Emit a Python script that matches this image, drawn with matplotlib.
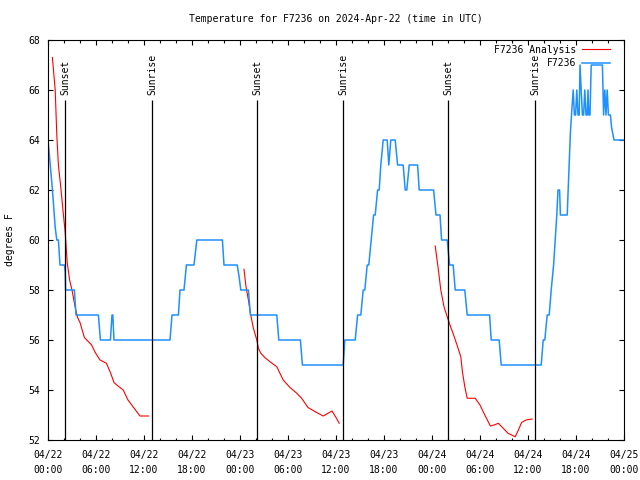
import matplotlib
matplotlib.use("Agg")
import matplotlib.pyplot as plt
from datetime import datetime, timedelta

plt.rcParams['font.family'] = ['DejaVu Sans Mono']
plt.rcParams['font.size'] = 7

start = datetime(2024, 4, 22, 0, 0)

# F7236 observations: hours since 04/22 00:00 UTC, degrees F
obs_hours = [0.0, 0.45, 0.65, 0.9, 1.1, 1.3, 1.5, 2.05, 2.15, 2.2, 3.3, 3.5, 6.3, 6.55,
             7.8, 8.0, 8.1, 8.25, 15.25, 15.5, 16.3, 16.5, 17.0, 17.3, 18.25, 18.6,
             21.8, 22.0, 23.65, 23.9, 24.1, 25.05, 25.3, 28.6, 28.85, 31.55, 31.8,
             36.9, 37.0, 37.1, 38.4, 38.7, 39.1, 39.4, 39.6, 39.9, 40.1, 40.4, 40.7,
             40.9, 41.2, 41.4, 41.6, 41.9, 42.4, 42.6, 42.85, 43.4, 43.7, 44.4, 44.65,
             44.85, 45.15, 46.2, 46.4, 48.2, 48.5, 49.0, 49.2, 49.9, 50.2, 50.65,
             50.9, 52.1, 52.4, 55.2, 55.4, 56.4, 56.65, 61.65, 61.9, 62.1, 62.4,
             62.65, 62.9, 63.2, 63.4, 63.6, 63.75, 63.95, 64.05, 64.9, 65.3, 65.5,
             65.65, 65.8, 65.95, 66.1, 66.25, 66.4, 66.5, 66.65, 66.8, 66.95, 67.1,
             67.25, 67.4, 67.5, 67.6, 67.75, 67.9, 69.3, 69.45, 69.6, 69.75, 69.9,
             70.05, 70.3, 70.45, 70.75, 72.0]
obs_temps = [64.0, 62.4, 61.6, 60.5, 60, 60, 59, 59, 58.7, 58, 58, 57, 57, 56,
             56, 57, 57, 56, 56, 57, 57, 58, 58, 59, 59, 60,
             60, 59, 59, 58.5, 58, 58, 57, 57, 56, 56, 55,
             55, 55.5, 56, 56, 57, 57, 58, 58, 59, 59, 60, 61,
             61, 62, 62, 63, 64, 64, 63, 64, 64, 63, 63, 62,
             62, 63, 63, 62, 62, 61, 61, 60, 60, 59, 59,
             58, 58, 57, 57, 56, 56, 55, 55, 56, 56, 57,
             57, 58, 59, 60, 61, 62, 62, 61, 61, 64.3, 65.3,
             66, 65, 65, 66, 65, 65, 67, 66, 65, 65, 66,
             65, 65, 66, 65, 65, 67, 67, 65, 66, 65, 66,
             65, 65, 64.5, 64, 64]

# F7236 Analysis, three separate runs
ana1_hours = [0.55, 0.9, 1.1, 1.3, 1.6, 1.9, 2.15, 2.4, 2.7, 3.0, 3.4, 3.7, 4.0,
              4.55, 5.45, 5.9, 6.5, 7.3, 7.8, 8.25, 8.6, 9.4, 10.0, 10.7, 11.5, 12.55]
ana1_temps = [67.3, 66.0, 64.2, 63.0, 62.1, 61.1, 60.3, 59.1, 58.4, 58.0, 57.3, 56.9, 56.7,
              56.1, 55.8, 55.5, 55.2, 55.07, 54.7, 54.3, 54.2, 54.0, 53.6, 53.3, 52.96, 52.96]

ana2_hours = [24.5, 24.75, 25.05, 25.3, 25.65, 26.1, 26.3, 26.6, 27.1, 27.75, 28.6,
              29.4, 30.25, 31.1, 31.7, 32.5, 33.4, 34.4, 35.0, 35.5, 36.0, 36.4]
ana2_temps = [58.83, 58.13, 57.6, 57.07, 56.5, 56.0, 55.67, 55.47, 55.3, 55.13, 54.93,
              54.4, 54.1, 53.87, 53.67, 53.3, 53.13, 52.96, 53.07, 53.16, 52.9, 52.67]

ana3_hours = [48.4, 48.8, 49.1, 49.5, 49.9, 50.25, 50.7, 51.2, 51.6, 51.8, 52.1, 52.4,
              53.4, 54.0, 54.6, 55.3, 55.75, 56.3, 56.9, 57.5, 58.4, 58.8, 59.2,
              59.75, 60.5]
ana3_temps = [59.76, 58.8, 58.0, 57.33, 56.93, 56.6, 56.2, 55.73, 55.33, 54.73, 54.13, 53.67,
              53.67, 53.4, 53.0, 52.56, 52.6, 52.67, 52.47, 52.27, 52.13, 52.4, 52.7,
              52.8, 52.84]

sun_hours = [2.17, 13.04, 26.17, 36.92, 50.05, 60.92]
sun_labels = ["Sunset", "Sunrise", "Sunset", "Sunrise", "Sunset", "Sunrise"]

fig = plt.figure(figsize=(6.4, 4.8), dpi=100)
ax = fig.add_axes([48 / 640, 40 / 480, 576 / 640, 400 / 480])

ax.plot(ana1_hours, ana1_temps, color='#ff0000', lw=0.8, label='F7236 Analysis')
ax.plot(ana2_hours, ana2_temps, color='#ff0000', lw=0.8)
ax.plot(ana3_hours, ana3_temps, color='#ff0000', lw=0.8)
ax.plot(obs_hours, obs_temps, color='#1e90ff', lw=1.1, label='F7236')

for h, lab in zip(sun_hours, sun_labels):
    ax.vlines(h, 52, 65.6, color='black', lw=0.9)
    ax.text(h, 65.8, lab, rotation=90, ha='center', va='bottom')

ax.set_xlim(0, 72)
ax.set_ylim(52, 68)
ax.set_xticks(range(0, 73, 6))
ax.set_xticks(range(0, 73, 2), minor=True)
ax.set_xticklabels([(start + timedelta(hours=h)).strftime('%m/%d\n%H:%M') for h in range(0, 73, 6)],
                   linespacing=1.6)
ax.set_yticks(range(52, 69, 2))
ax.tick_params(which='both', direction='in', top=True, right=True, width=0.8)
ax.tick_params(which='major', length=3.6)
ax.tick_params(which='minor', length=1.8)
ax.tick_params(axis='x', pad=7)
ax.tick_params(axis='y', pad=6)
for s in ax.spines.values():
    s.set_linewidth(0.8)

ax.set_ylabel('degrees F', labelpad=9)
ax.set_title('Temperature for F7236 on 2024-Apr-22 (time in UTC)', fontsize=7, pad=13)
ax.legend(loc='upper right', bbox_to_anchor=(0.984, 1.0), frameon=False, markerfirst=False,
          handlelength=2.9, borderaxespad=0.1, labelspacing=0.35, handletextpad=0.6)

fig.savefig('out.png', dpi=100)
